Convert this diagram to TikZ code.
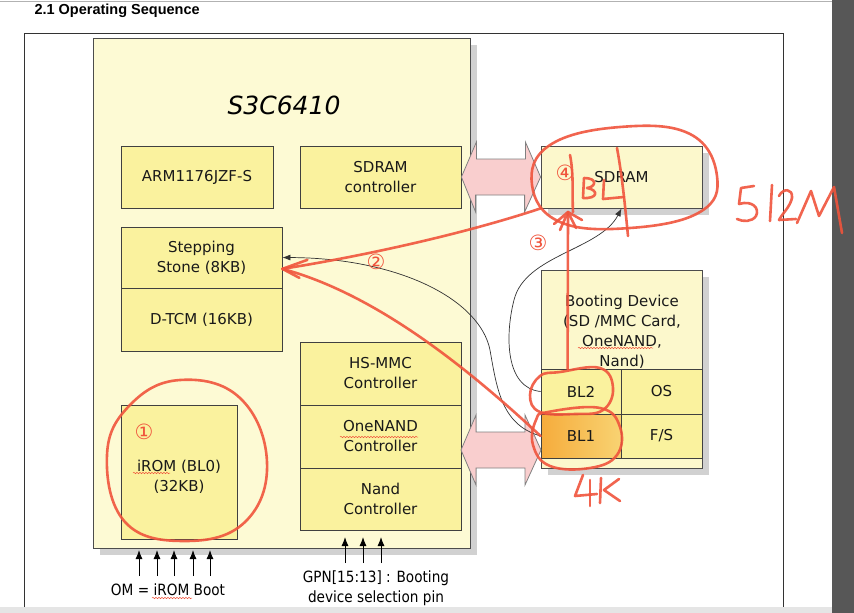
\documentclass[tikz,border=0pt]{standalone}
\usepackage{fontspec}
\setmainfont{DejaVu Sans}
\newfontfamily\headfont{Liberation Sans}
\newfontfamily\pinfont{DejaVu Sans}[FakeStretch=0.88]
\usetikzlibrary{arrows.meta, shadows, decorations.pathmorphing}
\definecolor{cChip}{RGB}{253,250,212}
\definecolor{cBox}{RGB}{250,242,158}
\definecolor{cDev}{RGB}{252,248,204}
\definecolor{cOrg}{RGB}{246,172,60}
\definecolor{cPink}{RGB}{249,206,206}
\definecolor{cPen}{RGB}{240,84,60}
\definecolor{cBar}{RGB}{87,87,87}

\begin{document}
\begin{tikzpicture}[x=1pt, y=-1pt,
    txt/.style={font=\fontsize{15}{20}\selectfont, text=black!90, align=center},
    blk/.style={txt, draw=black!75, fill=cBox, line width=0.8pt, inner sep=0pt,
                minimum width=161pt, minimum height=62pt},
    chip/.style={draw=black!70, fill=cChip, line width=0.8pt, inner sep=0pt,
                 drop shadow={shadow xshift=7pt, shadow yshift=-7pt, fill=black!18, opacity=1}},
    fat/.style={draw=black!50, fill=cPink, line width=0.8pt, line join=miter},
    wire/.style={draw=black!80, line width=0.7pt, -{Latex[length=8pt,width=6pt]}},
    pin/.style={draw=black, line width=1pt, -{Latex[length=9pt,width=7pt]}},
    pen/.style={cPen, line width=2.6pt, line cap=round, line join=round, opacity=0.9},
    num/.style={font=\fontsize{21}{21}\selectfont, text=cPen},
    wavy/.style={cPen, line width=0.5pt, decorate,
                 decoration={snake, segment length=3pt, amplitude=0.7pt}}]
  \useasboundingbox (0,0) rectangle (854,613);
  \fill[white] (0,0) rectangle (854,613);
  \fill[black!10] (0,607) rectangle (832,613);
  \fill[cBar] (832,0) rectangle (854,613);
  \draw[black!30, line width=0.8pt] (0,1) -- (832,1);
  \draw[black!80, line width=0.8pt] (24,607) -- (24,33) -- (783,33) -- (783,607);
  \node[anchor=base west, font=\headfont\bfseries\fontsize{14.5}{16}\selectfont] (title) at (31,14)
    {2.1 Operating Sequence};

  % S3C6410
  \node[chip, minimum width=377pt, minimum height=510pt] (soc) at (281.5,293) {};
  \node[font=\itshape\fontsize{25}{28}\selectfont] (socname) at (284,105) {S3C6410};
  \node[blk, minimum width=152pt] (arm) at (197,177) {ARM1176JZF-S};
  \node[blk] (sdc) at (380.5,177) {SDRAM\\controller};
  \node[blk, minimum height=61pt] (step) at (201.5,257.5) {Stepping\\Stone (8KB)};
  \node[blk, minimum height=63pt] (dtcm) at (201.5,319.5) {D-TCM (16KB)};
  \node[blk, minimum height=63pt] (hsmmc) at (380.5,373.5) {HS-MMC\\Controller};
  \node[blk, minimum height=63pt] (onenand) at (380.5,436.5) {OneNAND\\Controller};
  \node[blk] (nand) at (380.5,499) {Nand\\Controller};
  \node[blk, minimum width=116pt, minimum height=134pt] (irom) at (179,472) {\\iROM (BL0)\\(32KB)};

  % off-chip
  \node[chip, fill=cDev, minimum width=161pt, minimum height=62pt, txt] (sdram) at (621.5,177) {SDRAM};
  \node[chip, fill=cDev, minimum width=161pt, minimum height=198pt] (bdev) at (621.5,369) {};
  \node[txt] (bdevname) at (622,332) {Booting Device\\(SD /MMC Card,\\OneNAND,\\Nand)};
  \node[blk, minimum width=80pt, minimum height=45pt] (bl2) at (581,391.5) {BL2};
  \node[blk, minimum width=81pt, minimum height=45pt] (os) at (661.5,391.5) {OS};
  \node[blk, minimum width=80pt, minimum height=44pt, left color=cOrg, right color=cOrg!45!cBox] (bl1) at (581,436) {BL1};
  \node[blk, minimum width=81pt, minimum height=44pt] (fs) at (661.5,436) {F/S};

  \coordinate (busa) at (461,450);
  \coordinate (busb) at (541,450);
  \draw[fat] (sdc.east) -- ++(15,-35) -- ++(0,17) -- ++(49,0) -- ++(0,-17) -- (sdram.west)
    -- ++(-16,35) -- ++(0,-17) -- ++(-49,0) -- ++(0,17) -- cycle;
  \draw[fat] (busa) -- ++(15,-35) -- ++(0,17) -- ++(49,0) -- ++(0,-17) -- (busb)
    -- ++(-16,35) -- ++(0,-17) -- ++(-49,0) -- ++(0,17) -- cycle;

  \draw[wire] (bl1.west) .. controls (502,425) and (497,390) .. (490,350)
    .. controls (480,300) and (400,258) .. (step.east);
  \draw[wire] (bl2.west) .. controls (505,388) and (505,335) .. (514,300)
    .. controls (525,255) and (600,250) .. (sdram.south);

  \foreach \x in {139,157,174,193,210} \draw[pin] (\x,576) -- (\x,550);
  \foreach \x in {345,363,381} \draw[pin] (\x,563) -- (\x,537);
  \node[font=\pinfont\fontsize{15.5}{20}\selectfont] (om) at (168,590) {OM = iROM Boot};
  \node[font=\pinfont\fontsize{15.5}{20}\selectfont, align=center] (gpn) at (376,588)
    {GPN[15:13] : Booting\\device selection pin};

  \draw[wavy] (133,473) -- (170,473);
  \draw[wavy] (340,437) -- (418,437);
  \draw[wavy] (578,348) -- (653,348);
  \draw[wavy] (152,598) -- (192,598);

  % red marks
  \node[num] (n1) at (144,432) {①};
  \node[num] (n2) at (376,262) {②};
  \node[num] (n3) at (538,243) {③};
  \node[num] (n4) at (565,173) {④};
  \draw[pen] plot[smooth cycle, tension=0.7] coordinates
    {(180,380) (240,398) (267,462) (245,522) (185,541) (125,522) (107,455) (130,405)};
  \draw[pen] plot[smooth cycle, tension=0.7] coordinates
    {(532,185) (550,145) (620,127) (690,134) (717,176) (700,212) (630,228) (560,222)};
  \draw[pen] plot[smooth cycle, tension=0.7] coordinates
    {(560,372) (600,368) (613,388) (603,410) (575,414) (540,412) (530,395) (540,376)};
  \draw[pen] plot[smooth cycle, tension=0.7] coordinates
    {(548,412) (600,408) (620,427) (617,455) (590,468) (550,466) (533,445) (536,420)};
  \coordinate (rtip) at (step.-8);
  \draw[pen] (sdram.south west) .. controls (470,232) and (370,255) .. (rtip);
  \draw[pen] (bl1.west) .. controls (475,375) and (380,295) .. (rtip);
  \draw[pen] (rtip) ++(25,-9) -- (rtip) -- ++(17,9);
  \coordinate (r3) at (568,212);
  \draw[pen] ([xshift=27pt]bl2.north west) -- (r3);
  \draw[pen] (r3) -- ++(-14,12) (r3) -- ++(-8,18) (r3) -- ++(8,16) (r3) -- ++(14,8);
  % scribble in SDRAM
  \draw[pen] (570,155) .. controls (574,175) and (572,195) .. (573,212);
  \draw[pen] (617,148) .. controls (622,175) and (625,205) .. (628,236);
  \draw[pen] (584,178) -- (583,198) (584,178) .. controls (598,178) and (596,187) .. (587,188)
    .. controls (599,190) and (598,199) .. (583,198);
  \draw[pen] (604,180) -- (603,199) -- (624,197);
  % 512M
  \draw[pen] (754,186) -- (741,188) -- (739,204) .. controls (752,200) and (760,208) .. (756,216)
    .. controls (752,222) and (743,222) .. (737,219);
  \draw[pen] (772,185) -- (770,221);
  \draw[pen] (779,196) .. controls (783,188) and (793,188) .. (792,198)
    .. controls (790,207) and (782,214) .. (779,220) -- (796,219);
  \draw[pen] (797,223) -- (811,191) -- (819,216) -- (834,187) -- (842,233);
  % 4K
  \draw[pen] (583,475) -- (575,496) -- (597,494);
  \draw[pen] (590,480) -- (590,506);
  \draw[pen] (601,478) -- (600,503);
  \draw[pen] (619,479) -- (604,490) -- (620,501);
\end{tikzpicture}
\end{document}
